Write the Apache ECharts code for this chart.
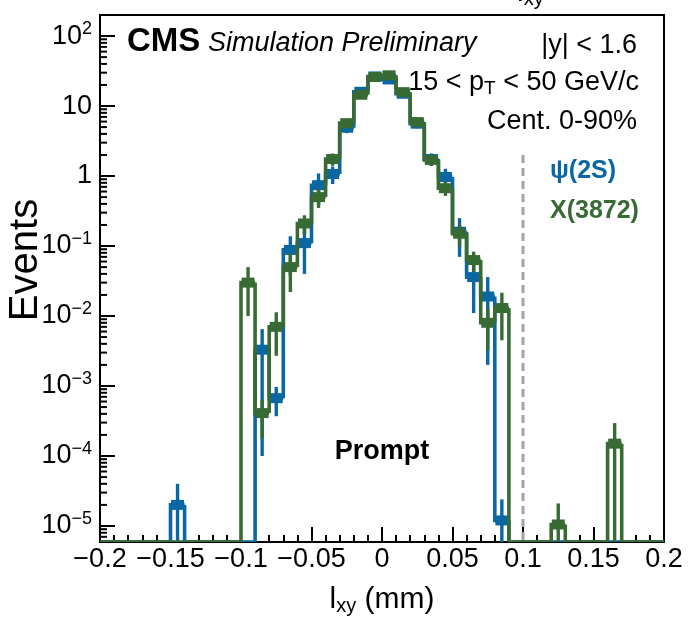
<!DOCTYPE html>
<html><head><meta charset="utf-8">
<script src="https://cdn.jsdelivr.net/npm/echarts@6/dist/echarts.min.js"></script>
<style>html,body{margin:0;padding:0;background:#fff;}#c{width:688px;height:622px;}</style>
</head><body><div id="c"></div>
<script>
// ---- data (bin width 0.01 mm) ----
const binCenters = [
  -0.195,-0.185,-0.175,-0.165,-0.155,-0.145,-0.135,-0.125,-0.115,-0.105,
  -0.095,-0.085,-0.075,-0.065,-0.055,-0.045,-0.035,-0.025,-0.015,-0.005,
   0.005, 0.015, 0.025, 0.035, 0.045, 0.055, 0.065, 0.075, 0.085, 0.095,
   0.105, 0.115, 0.125, 0.135, 0.145, 0.155, 0.165, 0.175, 0.185, 0.195];
const psiValues = [
  0,0,0,0,0, 2.0e-5,0,0,0,0,
  0, 3.3e-3, 6.7e-4, 0.088, 0.11, 0.74, 1.07, 4.9, 16, 26.5,
  24, 15, 5.6, 1.75, 0.97, 0.16, 0.036, 0.019, 1.2e-5, 0,
  0,0,0,0,0, 0,0,0,0,0];
const psiErrors = [
  0,0,0,0,0, 2.0e-5,0,0,0,0,
  0, 3.2e-3, 3.0e-4, 0.05, 0.07, 0.35, 0.3, 0.8, 1.5, 2,
  2, 1.5, 0.8, 0.35, 0.3, 0.09, 0.025, 0.017, 1.2e-5, 0,
  0,0,0,0,0, 0,0,0,0,0];
const x3872Values = [
  0,0,0,0,0, 0,0,0,0,0,
  0.03, 4.1e-4, 0.007, 0.05, 0.21, 0.5, 1.75, 5.7, 14.5, 26,
  27.5, 15.8, 5.9, 1.7, 0.67, 0.15, 0.063, 0.008, 0.013, 0,
  0,0, 1.05e-5, 0,0, 0, 1.5e-4, 0,0,0];
const x3872Errors = [
  0,0,0,0,0, 0,0,0,0,0,
  0.02, 2.3e-4, 0.0043, 0.028, 0.065, 0.15, 0.35, 0.9, 1.5, 2,
  2, 1.5, 0.8, 0.3, 0.15, 0.05, 0.02, 0.0047, 0.0085, 0,
  0,0, 1.05e-5, 0,0, 0, 1.45e-4, 0,0,0];
const seriesNames = ['\u03c8(2S)', 'X(3872)'];
const cutLine = [0.1, 2];          // dashed line: x position, top value
const xRange = [-0.2, 0.2];
const yRange = [5.9e-6, 200];
const BIN_W = 0.01;

const BLUE = '#0a67a3', GREEN = '#386b34';
const FONT = '"Liberation Sans", Arial, Helvetica, sans-serif';

const chart = echarts.init(document.getElementById('c'), null, {renderer: 'canvas'});

function clampV(v) { return (v > yRange[0]) ? v : yRange[0]; }

function histRender(color) {
  return function (params, api) {
    const c = api.value(0), v = api.value(1), e = api.value(2), pv = api.value(3);
    const xl = api.coord([c - BIN_W / 2, yRange[0]])[0];
    const xr = api.coord([c + BIN_W / 2, yRange[0]])[0];
    const xc = api.coord([c, yRange[0]])[0];
    const yv = api.coord([c, clampV(v)])[1];
    const yp = api.coord([c, clampV(pv)])[1];
    const children = [{
      type: 'polyline',
      shape: {points: [[xl, yp], [xl, yv], [xr, yv]]},
      style: {stroke: color, lineWidth: 3.6, fill: 'none'}
    }];
    if (v > 0) {
      const y1 = api.coord([c, clampV(v - e)])[1];
      const y2 = api.coord([c, clampV(v + e)])[1];
      children.push({type: 'line', shape: {x1: xc, y1: y1, x2: xc, y2: y2},
        style: {stroke: color, lineWidth: 3.4}});
      children.push({type: 'rect', shape: {x: xc - 6.5, y: yv - 5, width: 13, height: 10},
        style: {fill: color}});
    }
    return {type: 'group', children: children};
  };
}

function histData(vals, errs) {
  return binCenters.map((c, i) => [c, vals[i], errs[i], i > 0 ? vals[i - 1] : 0]);
}

// minor ticks of the log axis (2..9 x 10^k) - axis decoration
const minorTickVals = [];
for (let k = -6; k <= 2; k++) for (let m = 2; m <= 9; m++) {
  const v = m * Math.pow(10, k);
  if (v > yRange[0] && v < yRange[1]) minorTickVals.push([xRange[0], v]);
}

const SUP = '\u2212';
function yFmt(v) {
  const e = Math.log10(v);
  const r = Math.round(e);
  if (Math.abs(e - r) > 1e-6) return '';
  if (r === 0) return '{b|1}';
  if (r === 1) return '{b|10}';
  return '{b|10}{s|' + (r < 0 ? SUP + (-r) : r) + '}';
}
function xFmt(v) {
  const s = (+v.toFixed(3)).toString();
  return s.replace('-', '\u2212');
}

const option = {
  animation: false,
  backgroundColor: '#fff',
  grid: {left: 100, right: 24, top: 15, bottom: 80, show: true, borderColor: '#000', borderWidth: 2,
         backgroundColor: 'transparent', containLabel: false, outerBoundsMode: 'none'},
  xAxis: {
    type: 'value', min: xRange[0], max: xRange[1], interval: 0.05,
    splitLine: {show: false},
    axisLine: {show: true, onZero: false, lineStyle: {color: '#000', width: 2}},
    axisTick: {show: true, inside: true, length: 15, lineStyle: {color: '#000', width: 2}},
    minorTick: {show: true, splitNumber: 5, length: 7, lineStyle: {color: '#000', width: 2}},
    minorSplitLine: {show: false},
    axisLabel: {formatter: xFmt, fontSize: 27, fontFamily: FONT, color: '#000', margin: 4,
                showMinLabel: true, showMaxLabel: true}
  },
  yAxis: {
    type: 'log', logBase: 10, min: yRange[0], max: yRange[1],
    splitLine: {show: false},
    axisLine: {show: true, onZero: false, lineStyle: {color: '#000', width: 2}},
    axisTick: {show: true, inside: true, length: 15, lineStyle: {color: '#000', width: 2}},
    minorTick: {show: false},
    axisLabel: {
      formatter: yFmt, margin: 8, color: '#000', showMinLabel: false, showMaxLabel: false,
      rich: {
        b: {fontSize: 27, fontFamily: FONT, color: '#000'},
        s: {fontSize: 18, fontFamily: FONT, color: '#000', padding: [0, 0, 14, 0]}
      }
    }
  },
  series: [
    {
      name: 'minorTicks', type: 'custom', silent: true, clip: true, z: 1,
      data: minorTickVals,
      renderItem: function (params, api) {
        const p = api.coord([api.value(0), api.value(1)]);
        return {type: 'line', shape: {x1: p[0], y1: p[1], x2: p[0] + 7, y2: p[1]},
                style: {stroke: '#000', lineWidth: 2}};
      }
    },
    {
      name: 'cut', type: 'custom', silent: true, clip: true, z: 2,
      data: [cutLine],
      renderItem: function (params, api) {
        const top = api.coord([api.value(0), api.value(1)]);
        const bot = api.coord([api.value(0), yRange[0]]);
        return {type: 'line', shape: {x1: top[0], y1: top[1], x2: bot[0], y2: bot[1]},
                style: {stroke: '#a3a3a3', lineWidth: 3, lineDash: [8, 5]}};
      }
    },
    {
      name: seriesNames[0], type: 'custom', clip: true, z: 3,
      data: histData(psiValues, psiErrors),
      renderItem: histRender(BLUE)
    },
    {
      name: seriesNames[1], type: 'custom', clip: true, z: 4,
      data: histData(x3872Values, x3872Errors),
      renderItem: histRender(GREEN)
    }
  ],
  graphic: [
    {type: 'text', x: 517, y: -7, silent: true, style: {
      text: '{a|l}{s|xy}', verticalAlign: 'middle', align: 'left',
      rich: {a: {fontSize: 30, fontFamily: FONT, fill: '#000'},
             s: {fontSize: 20, fontFamily: FONT, fill: '#000', padding: [12, 0, 0, 0]}}}},
    {type: 'text', x: 127, y: 42, silent: true, style: {
      text: 'CMS', font: 'bold 33px ' + FONT, fill: '#000', verticalAlign: 'middle', align: 'left'}},
    {type: 'text', x: 208, y: 43, silent: true, style: {
      text: 'Simulation Preliminary', font: 'italic 27px ' + FONT, fill: '#000', verticalAlign: 'middle', align: 'left'}},
    {type: 'text', x: 637, y: 46, silent: true, style: {
      text: '|y| < 1.6', font: '27px ' + FONT, fill: '#000', verticalAlign: 'middle', align: 'right'}},
    {type: 'text', x: 639, y: 83, silent: true, style: {
      text: '{a|15 < p}{s|T}{a| < 50 GeV/c}', verticalAlign: 'middle', align: 'right',
      rich: {a: {fontSize: 27, fontFamily: FONT, fill: '#000'},
             s: {fontSize: 19, fontFamily: FONT, fill: '#000', padding: [12, 0, 0, 0]}}}},
    {type: 'text', x: 637, y: 122, silent: true, style: {
      text: 'Cent. 0-90%', font: '27px ' + FONT, fill: '#000', verticalAlign: 'middle', align: 'right'}},
    {type: 'text', x: 550, y: 171, silent: true, style: {
      text: seriesNames[0], font: 'bold 25px ' + FONT, fill: BLUE, verticalAlign: 'middle', align: 'left'}},
    {type: 'text', x: 550, y: 211, silent: true, style: {
      text: seriesNames[1], font: 'bold 25px ' + FONT, fill: GREEN, verticalAlign: 'middle', align: 'left'}},
    {type: 'text', x: 382, y: 452, silent: true, style: {
      text: 'Prompt', font: 'bold 27px ' + FONT, fill: '#000', verticalAlign: 'middle', align: 'center'}},
    {type: 'text', x: 26, y: 260, rotation: Math.PI / 2, silent: true, style: {
      text: 'Events', font: '40px ' + FONT, fill: '#000', verticalAlign: 'middle', align: 'center'}},
    {type: 'text', x: 382, y: 600, silent: true, style: {
      text: '{a|l}{s|xy}{a| (mm)}', verticalAlign: 'middle', align: 'center',
      rich: {a: {fontSize: 30, fontFamily: FONT, fill: '#000'},
             s: {fontSize: 20, fontFamily: FONT, fill: '#000', padding: [12, 0, 0, 0]}}}}
  ]
};
chart.setOption(option);
</script></body></html>
